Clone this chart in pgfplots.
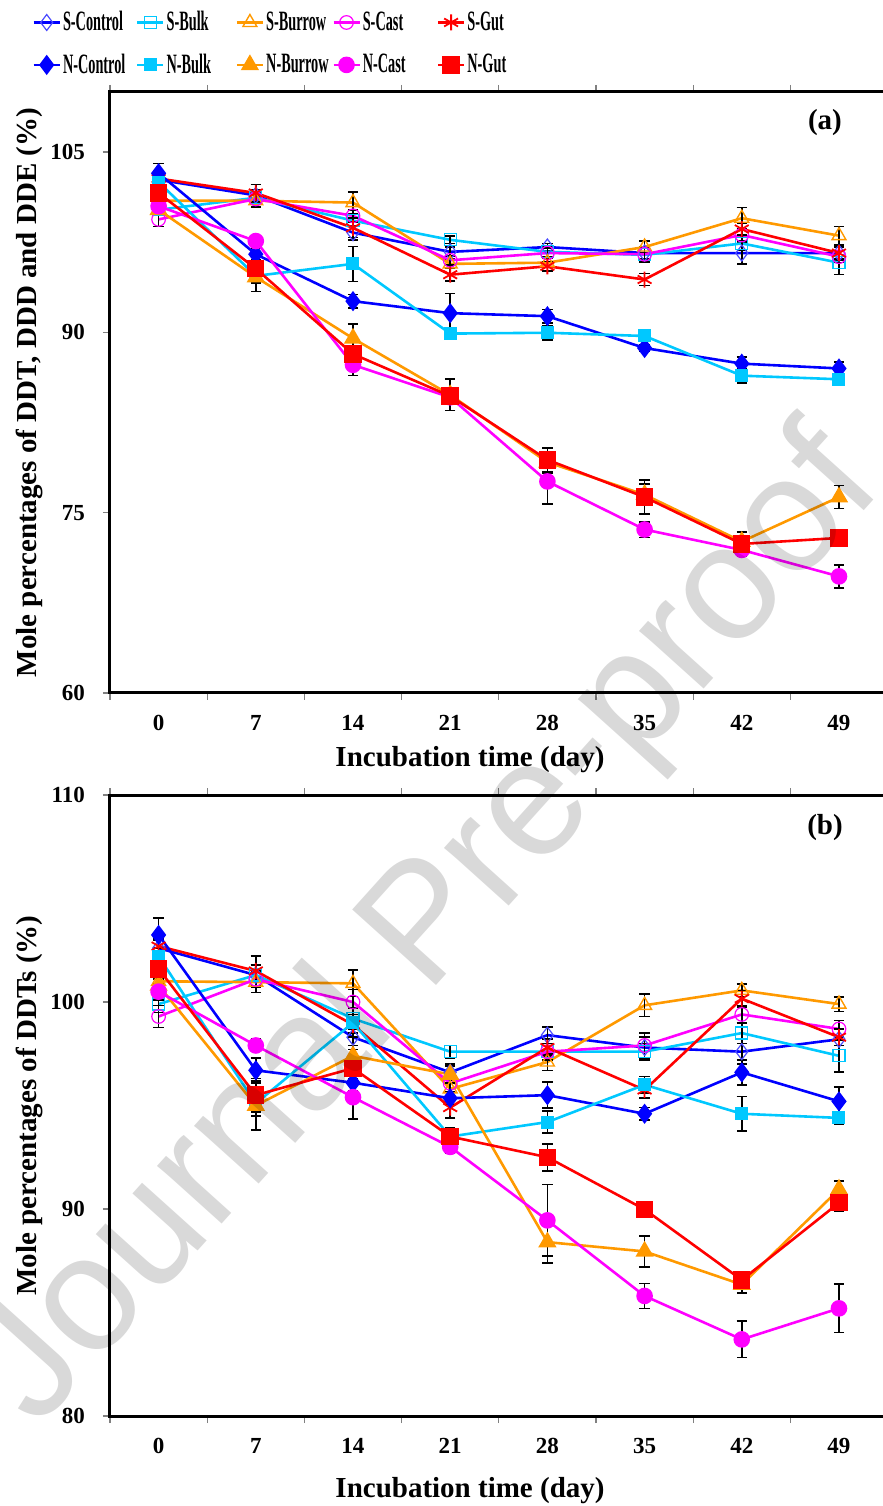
\documentclass[border=0pt]{standalone}
\usepackage{pgfplots}
\pgfplotsset{compat=1.18}
\usepackage{pgfplotstable}
\usepackage{graphicx}
\usepackage{fontspec}
\setmainfont{Liberation Serif}
\setsansfont{Liberation Sans}

\definecolor{cBlue}{RGB}{0,0,255}
\definecolor{cCyan}{RGB}{0,200,255}
\definecolor{cOrange}{RGB}{255,153,0}
\definecolor{cMag}{RGB}{255,0,255}
\definecolor{cRed}{RGB}{255,0,0}

\pgfplotstableread{
x SCo eSCo SBu eSBu SBr eSBr SCa eSCa SGu eSGu NCo eNCo NBu eNBu NBr eNBr NCa eNCa NGu eNGu
0 102.7 0.5 100.2 0.3 100.95 0.4 99.4 0.6 102.8 0.4 103.24 0.8 102.5 0.4 100.2 0.4 100.5 0.4 101.6 0.5
1 101.4 0.5 101.2 0.4 100.95 0.5 101.1 0.4 101.6 0.7 96.5 0.5 94.7 0.6 94.6 1.2 97.6 0.4 95.3 0.5
2 98.3 0.6 99.3 0.5 100.8 0.9 99.7 0.5 98.7 0.8 92.6 0.55 95.7 1.45 89.5 1.2 87.3 0.9 88.2 0.7
3 96.7 0.4 97.7 0.3 95.7 0.4 96.0 0.4 94.8 0.5 91.6 1.65 89.9 0.3 84.8 1.3 84.6 0.3 84.7 0.5
4 97.1 0.3 96.7 0.4 95.8 0.4 96.6 0.4 95.5 0.4 91.35 0.55 89.97 0.6 79.2 0.9 77.6 1.9 79.4 0.97
5 96.6 0.5 96.45 0.6 97.1 0.5 96.5 0.5 94.4 0.5 88.7 0.3 89.7 0.3 76.5 0.9 73.6 0.65 76.3 1.4
6 96.6 0.9 97.4 0.6 99.5 0.9 98.1 0.5 98.6 0.5 87.4 0.55 86.4 0.6 72.6 0.5 71.9 0.5 72.4 1.0
7 96.6 0.6 95.8 1.0 98.05 0.75 96.3 0.5 96.6 0.5 87.0 0.55 86.1 0.3 76.3 0.95 69.7 0.95 72.9 0.6
}\tabA

\pgfplotstableread{
x SCo eSCo SBu eSBu SBr eSBr SCa eSCa SGu eSGu NCo eNCo NBu eNBu NBr eNBr NCa eNCa NGu eNGu
0 102.6 0.4 99.9 0.4 101.0 0.4 99.3 0.53 102.7 0.4 103.24 0.82 102.2 0.4 100.8 0.4 100.5 0.4 101.6 0.5
1 101.3 0.5 101.3 0.5 100.96 0.5 101.1 0.4 101.5 0.72 96.7 0.6 95.1 0.6 95.0 1.17 97.9 0.3 95.5 0.8
2 98.3 0.6 99.2 0.5 100.9 0.64 100.0 0.6 98.9 0.6 96.1 0.4 99.0 0.5 97.4 0.5 95.4 1.04 96.8 0.5
3 96.6 0.4 97.6 0.3 95.8 0.4 96.07 0.4 94.9 0.5 95.35 0.3 93.5 0.3 96.5 0.4 93.0 0.3 93.5 0.4
4 98.4 0.4 97.6 0.4 97.1 0.4 97.6 0.4 97.8 0.4 95.5 0.63 94.2 0.53 88.4 1.0 89.45 1.73 92.5 0.65
5 97.8 0.5 97.6 0.4 99.84 0.55 97.9 0.6 95.75 0.4 94.6 0.3 96.0 0.4 87.95 0.75 85.8 0.6 89.98 0.3
6 97.6 0.6 98.5 0.5 100.56 0.3 99.4 0.4 100.16 0.4 96.6 0.6 94.6 0.83 86.35 0.4 83.7 0.88 86.57 0.4
7 98.2 0.5 97.4 0.77 99.9 0.35 98.7 0.4 98.3 0.4 95.2 0.7 94.4 0.3 90.95 0.4 85.2 1.17 90.3 0.4
}\tabB

\newcommand{\lt}[2]{\makebox[#1][l]{\scalebox{0.51}[1]{#2}}}

\pgfplotsset{
  eb/.style={error bars/y dir=both, error bars/y explicit,
    error bars/error bar style={black,line width=0.8pt,solid},
    error bars/error mark options={black,rotate=90,mark size=2.6pt,line width=0.8pt}},
  sCo/.style={eb, cBlue, line width=1.3pt, mark=diamond, mark size=4pt, mark options={solid, fill=white, draw=cBlue!70, line width=0.6pt}},
  sBu/.style={eb, cCyan, line width=1.3pt, mark=square, mark size=3pt, mark options={solid, fill=white, line width=0.6pt}},
  sBr/.style={eb, cOrange, line width=1.3pt, mark=triangle, mark size=4pt, mark options={solid, fill=white, line width=0.7pt}},
  sCa/.style={eb, cMag, line width=1.3pt, mark=o, mark size=3.4pt, mark options={solid, fill=white, line width=0.6pt}},
  sGu/.style={eb, cRed, line width=1.3pt, mark=asterisk, mark size=4pt, mark options={solid, line width=0.9pt}},
  nCo/.style={eb, cBlue, line width=1.3pt, mark=diamond*, mark size=4pt, mark options={solid}},
  nBu/.style={eb, cCyan, line width=1.3pt, mark=square*, mark size=2.6pt, mark options={solid}},
  nBr/.style={eb, cOrange, line width=1.3pt, mark=triangle*, mark size=4pt, mark options={solid}},
  nCa/.style={eb, cMag, line width=1.3pt, mark=*, mark size=3.5pt, mark options={solid}},
  nGu/.style={eb, cRed, line width=1.3pt, mark=square*, mark size=3.7pt, mark options={solid}},
  myax/.style={
    scale only axis, width=388.8pt, xmin=-0.5, xmax=7.5,
    axis line style={line width=1.5pt, black},
    xtick={0,...,7}, xticklabels={0,7,14,21,28,35,42,49},
    minor xtick={-0.5,0.5,...,7.5},
    major x tick style={draw=none},
    minor x tick style={gray, line width=0.6pt},
    ytick style={gray, line width=0.6pt},
    tick align=outside, major tick length=3.5pt, minor tick length=3.5pt,
    tick label style={font=\bfseries\fontsize{11.5}{12}\selectfont},
    /pgf/number format/assume math mode=true,
    xticklabel style={yshift=-4pt},
    yticklabel style={xshift=-5.5pt},
    label style={font=\bfseries\fontsize{14.5}{16}\selectfont},
    xlabel={Incubation time (day)},
    ylabel style={at={(axis description cs:-0.103,0.5)}, anchor=center},
    legend image code/.code={\draw[mark repeat=2,mark phase=2,##1] plot coordinates {(0pt,0pt)(6.5pt,0pt)(13pt,0pt)};},
  }
}

\begin{document}
\begin{tikzpicture}
% panel (a)
\begin{axis}[myax, at={(55pt,406.5pt)}, anchor=south west, height=300.5pt,
  ymin=60, ymax=110, ytick={60,75,90,105},
  xlabel style={at={(axis description cs:0.463,0)}, anchor=center, yshift=-33.5pt},
  ylabel={Mole percentages of DDT, DDD and DDE (\%)},
  legend columns=5,
  legend style={at={(axis description cs:-0.1003,1.135)}, anchor=north west, draw=none, fill=none,
    inner sep=0pt, column sep=1pt, row sep=10pt,
    font=\bfseries\fontsize{14}{15}\selectfont, cells={anchor=west}, nodes={inner sep=0pt}},
]
\addplot[sCo] table[x=x,y=SCo,y error=eSCo]{\tabA};
\addplot[sBu] table[x=x,y=SBu,y error=eSBu]{\tabA};
\addplot[sBr] table[x=x,y=SBr,y error=eSBr]{\tabA};
\addplot[sCa] table[x=x,y=SCa,y error=eSCa]{\tabA};
\addplot[sGu] table[x=x,y=SGu,y error=eSGu]{\tabA};
\addplot[nCo] table[x=x,y=NCo,y error=eNCo]{\tabA};
\addplot[nBu] table[x=x,y=NBu,y error=eNBu]{\tabA};
\addplot[nBr] table[x=x,y=NBr,y error=eNBr]{\tabA};
\addplot[nCa] table[x=x,y=NCa,y error=eNCa]{\tabA};
\addplot[nGu] table[x=x,y=NGu,y error=eNGu]{\tabA};
\legend{\lt{35.5pt}{S-Control},\lt{33.5pt}{S-Bulk},\lt{32pt}{S-Burrow},\lt{36pt}{S-Cast},\lt{30pt}{S-Gut},
        \lt{35.5pt}{N-Control},\lt{33.5pt}{N-Bulk},\lt{32pt}{N-Burrow},\lt{36pt}{N-Cast},\lt{30pt}{N-Gut}}
\node[font=\bfseries\fontsize{14.5}{16}\selectfont] at (axis description cs:0.9195,0.95) {(a)};
\end{axis}
% panel (b)
\begin{axis}[myax, at={(55pt,45pt)}, anchor=south west, height=310.5pt,
  ymin=80, ymax=110, ytick={80,90,100,110},
  xlabel style={at={(axis description cs:0.463,0)}, anchor=center, yshift=-37.5pt},
  ylabel={Mole percentages of DDTs (\%)},
]
\addplot[sCo] table[x=x,y=SCo,y error=eSCo]{\tabB};
\addplot[sBu] table[x=x,y=SBu,y error=eSBu]{\tabB};
\addplot[sBr] table[x=x,y=SBr,y error=eSBr]{\tabB};
\addplot[sCa] table[x=x,y=SCa,y error=eSCa]{\tabB};
\addplot[sGu] table[x=x,y=SGu,y error=eSGu]{\tabB};
\addplot[nCo] table[x=x,y=NCo,y error=eNCo]{\tabB};
\addplot[nBu] table[x=x,y=NBu,y error=eNBu]{\tabB};
\addplot[nBr] table[x=x,y=NBr,y error=eNBr]{\tabB};
\addplot[nCa] table[x=x,y=NCa,y error=eNCa]{\tabB};
\addplot[nGu] table[x=x,y=NGu,y error=eNGu]{\tabB};
\node[font=\bfseries\fontsize{14.5}{16}\selectfont] at (axis description cs:0.9195,0.947) {(b)};
\end{axis}
% watermark
\node[rotate=48, text=black, text opacity=0.15, font=\sffamily\fontsize{82}{86}\selectfont] at (215pt,288pt) {Journal Pre-proof};
\pgfresetboundingbox
\useasboundingbox (0,0) rectangle (441.5pt,753pt);
\end{tikzpicture}
\end{document}
